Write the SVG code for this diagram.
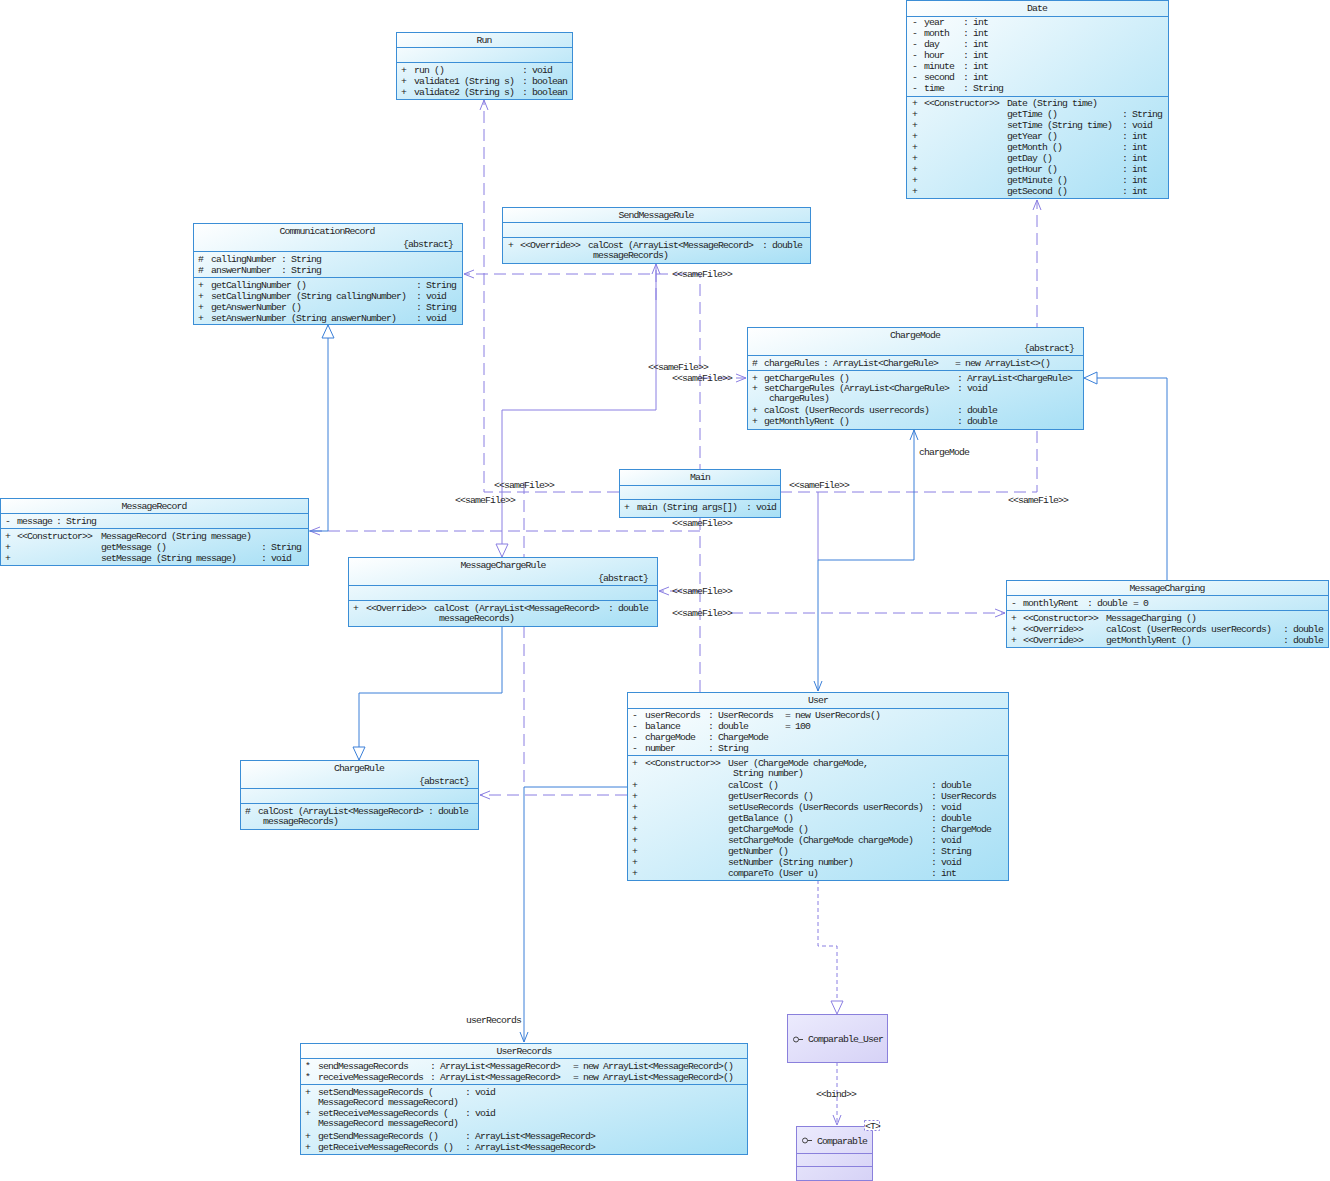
<svg xmlns="http://www.w3.org/2000/svg" width="1330" height="1181" viewBox="0 0 1330 1181">
<style>
.box{fill:url(#g);stroke:#3b8ed6;stroke-width:1}
.ibox{fill:url(#gi);stroke:#8a80dc;stroke-width:1}
.dv{stroke:#3b8ed6;stroke-width:1}
.idv{stroke:#8a80dc;stroke-width:1}
text{font-family:"Liberation Mono","DejaVu Sans Mono",monospace;font-size:9.8px;letter-spacing:-0.88px;fill:#1e1e1e}
.c{text-anchor:middle}
.e{text-anchor:end}
.dep{fill:none;stroke:#8a7ee2;stroke-width:1;stroke-dasharray:12 6}
.dot{fill:none;stroke:#8a7ee2;stroke-width:1;stroke-dasharray:4 3}
.sol{fill:none;stroke:#8a7ee2;stroke-width:1}
.as{fill:none;stroke:#3a7fd8;stroke-width:1}
</style>
<defs>
<linearGradient id="g" x1="0" y1="0" x2="1" y2="1">
<stop offset="0" stop-color="#ffffff"/>
<stop offset="1" stop-color="#a6dff5"/>
</linearGradient>
<linearGradient id="gi" x1="0" y1="0" x2="1" y2="1">
<stop offset="0" stop-color="#ecebfd"/>
<stop offset="1" stop-color="#d6d2f6"/>
</linearGradient>
<marker id="ad" viewBox="0 0 10 8" refX="10" refY="4" markerWidth="10" markerHeight="8" markerUnits="userSpaceOnUse" orient="auto" overflow="visible">
<path d="M0,0 L10,4 L0,8" fill="none" stroke="#8a7ee2" stroke-width="1"/>
</marker>
<marker id="ab" viewBox="0 0 10 8" refX="10" refY="4" markerWidth="10" markerHeight="8" markerUnits="userSpaceOnUse" orient="auto" overflow="visible">
<path d="M0,0 L10,4 L0,8" fill="none" stroke="#3a7fd8" stroke-width="1"/>
</marker>
<marker id="tb" viewBox="0 0 13 12" refX="13" refY="6" markerWidth="13" markerHeight="12" markerUnits="userSpaceOnUse" orient="auto" overflow="visible">
<path d="M0,0 L13,6 L0,12 Z" fill="#ffffff" stroke="#3a7fd8" stroke-width="1"/>
</marker>
<marker id="tp" viewBox="0 0 13 12" refX="13" refY="6" markerWidth="13" markerHeight="12" markerUnits="userSpaceOnUse" orient="auto" overflow="visible">
<path d="M0,0 L13,6 L0,12 Z" fill="#ffffff" stroke="#8a7ee2" stroke-width="1"/>
</marker>
</defs>
<rect width="1330" height="1181" fill="#ffffff"/>

<g id="connectors">
<path class="dep" d="M619,492 H484 V100" marker-end="url(#ad)"/>
<path class="dep" d="M780,492 H1037 V200" marker-end="url(#ad)"/>
<path class="dep" d="M700,692 V274 H464" marker-end="url(#ad)"/>
<path class="dep" d="M656,300 V264" marker-end="url(#ad)"/>
<path class="dep" d="M700,378 H746" marker-end="url(#ad)"/>
<path class="dep" d="M700,531 H310" marker-end="url(#ad)"/>
<path class="dep" d="M700,591 H659" marker-end="url(#ad)"/>
<path class="dep" d="M731,613 H1005" marker-end="url(#ad)"/>
<path class="dep" d="M524,482 V787"/>
<path class="dep" d="M627,795 H480" marker-end="url(#ad)"/>
<path class="sol" d="M818,492 V560"/>
<path class="as" d="M818,560 V691" marker-end="url(#ab)"/>
<path class="as" d="M818,560 H914 V430" marker-end="url(#ab)"/>
<path class="as" d="M627,787 H524 V1042" marker-end="url(#ab)"/>
<path class="as" d="M308,531 H328 V325" marker-end="url(#tb)"/>
<path class="sol" d="M656,264 V410 H502 V557" marker-end="url(#tp)"/>
<path class="as" d="M502,626 V693 H359 V760" marker-end="url(#tb)"/>
<path class="as" d="M1167,580 V378 H1084" marker-end="url(#tb)"/>
<path class="dot" d="M818,880 V946 H837 V1014" marker-end="url(#tp)"/>
<path class="dot" d="M837,1062 V1125" marker-end="url(#ad)"/>
<text x="672" y="277">&lt;&lt;sameFile&gt;&gt;</text>
<text x="648" y="370">&lt;&lt;sameFile&gt;&gt;</text>
<text x="672" y="381">&lt;&lt;sameFile&gt;&gt;</text>
<text x="494" y="488">&lt;&lt;sameFile&gt;&gt;</text>
<text x="455" y="503">&lt;&lt;sameFile&gt;&gt;</text>
<text x="789" y="488">&lt;&lt;sameFile&gt;&gt;</text>
<text x="1008" y="503">&lt;&lt;sameFile&gt;&gt;</text>
<text x="672" y="526">&lt;&lt;sameFile&gt;&gt;</text>
<text x="672" y="594">&lt;&lt;sameFile&gt;&gt;</text>
<text x="672" y="616">&lt;&lt;sameFile&gt;&gt;</text>
<text x="919" y="455">chargeMode</text>
<text x="466" y="1023">userRecords</text>
<text x="816" y="1097">&lt;&lt;bind&gt;&gt;</text>
</g>

<g id="Run">
<rect class="box" x="396.5" y="32.5" width="176" height="67"/>
<line class="dv" x1="396.5" y1="47.5" x2="572.5" y2="47.5"/>
<line class="dv" x1="396.5" y1="62.5" x2="572.5" y2="62.5"/>
<text class="c" x="484" y="43">Run</text>
<text y="73"><tspan x="401">+</tspan><tspan x="414">run ()</tspan><tspan x="522">: void</tspan></text>
<text y="84"><tspan x="401">+</tspan><tspan x="414">validate1 (String s)</tspan><tspan x="522">: boolean</tspan></text>
<text y="95"><tspan x="401">+</tspan><tspan x="414">validate2 (String s)</tspan><tspan x="522">: boolean</tspan></text>
</g>

<g id="Date">
<rect class="box" x="906.5" y="0.5" width="262" height="198"/>
<line class="dv" x1="906.5" y1="16.5" x2="1168.5" y2="16.5"/>
<line class="dv" x1="906.5" y1="96.5" x2="1168.5" y2="96.5"/>
<text class="c" x="1037" y="11">Date</text>
<text y="25"><tspan x="912">-</tspan><tspan x="924">year</tspan><tspan x="963">: int</tspan></text>
<text y="36"><tspan x="912">-</tspan><tspan x="924">month</tspan><tspan x="963">: int</tspan></text>
<text y="47"><tspan x="912">-</tspan><tspan x="924">day</tspan><tspan x="963">: int</tspan></text>
<text y="58"><tspan x="912">-</tspan><tspan x="924">hour</tspan><tspan x="963">: int</tspan></text>
<text y="69"><tspan x="912">-</tspan><tspan x="924">minute</tspan><tspan x="963">: int</tspan></text>
<text y="80"><tspan x="912">-</tspan><tspan x="924">second</tspan><tspan x="963">: int</tspan></text>
<text y="91"><tspan x="912">-</tspan><tspan x="924">time</tspan><tspan x="963">: String</tspan></text>
<text y="106"><tspan x="912">+</tspan><tspan x="924">&lt;&lt;Constructor&gt;&gt;</tspan><tspan x="1007">Date (String time)</tspan></text>
<text y="117"><tspan x="912">+</tspan><tspan x="1007">getTime ()</tspan><tspan x="1122">: String</tspan></text>
<text y="128"><tspan x="912">+</tspan><tspan x="1007">setTime (String time)</tspan><tspan x="1122">: void</tspan></text>
<text y="139"><tspan x="912">+</tspan><tspan x="1007">getYear ()</tspan><tspan x="1122">: int</tspan></text>
<text y="150"><tspan x="912">+</tspan><tspan x="1007">getMonth ()</tspan><tspan x="1122">: int</tspan></text>
<text y="161"><tspan x="912">+</tspan><tspan x="1007">getDay ()</tspan><tspan x="1122">: int</tspan></text>
<text y="172"><tspan x="912">+</tspan><tspan x="1007">getHour ()</tspan><tspan x="1122">: int</tspan></text>
<text y="183"><tspan x="912">+</tspan><tspan x="1007">getMinute ()</tspan><tspan x="1122">: int</tspan></text>
<text y="194"><tspan x="912">+</tspan><tspan x="1007">getSecond ()</tspan><tspan x="1122">: int</tspan></text>
</g>

<g id="CommunicationRecord">
<rect class="box" x="193.5" y="223.5" width="269" height="101"/>
<line class="dv" x1="193.5" y1="251.5" x2="462.5" y2="251.5"/>
<line class="dv" x1="193.5" y1="277.5" x2="462.5" y2="277.5"/>
<text class="c" x="327" y="234">CommunicationRecord</text>
<text class="e" x="453" y="247">{abstract}</text>
<text y="262"><tspan x="198">#</tspan><tspan x="211">callingNumber</tspan><tspan x="281">: String</tspan></text>
<text y="273"><tspan x="198">#</tspan><tspan x="211">answerNumber</tspan><tspan x="281">: String</tspan></text>
<text y="288"><tspan x="198">+</tspan><tspan x="211">getCallingNumber ()</tspan><tspan x="416">: String</tspan></text>
<text y="299"><tspan x="198">+</tspan><tspan x="211">setCallingNumber (String callingNumber)</tspan><tspan x="416">: void</tspan></text>
<text y="310"><tspan x="198">+</tspan><tspan x="211">getAnswerNumber ()</tspan><tspan x="416">: String</tspan></text>
<text y="321"><tspan x="198">+</tspan><tspan x="211">setAnswerNumber (String answerNumber)</tspan><tspan x="416">: void</tspan></text>
</g>

<g id="SendMessageRule">
<rect class="box" x="502.5" y="207.5" width="308" height="56"/>
<line class="dv" x1="502.5" y1="222.5" x2="810.5" y2="222.5"/>
<line class="dv" x1="502.5" y1="237.5" x2="810.5" y2="237.5"/>
<text class="c" x="656" y="218">SendMessageRule</text>
<text y="248"><tspan x="508">+</tspan><tspan x="520">&lt;&lt;Override&gt;&gt;</tspan><tspan x="588">calCost (ArrayList&lt;MessageRecord&gt;</tspan><tspan x="762">: double</tspan></text>
<text x="593" y="258">messageRecords)</text>
</g>

<g id="ChargeMode">
<rect class="box" x="747.5" y="327.5" width="336" height="102"/>
<line class="dv" x1="747.5" y1="355.5" x2="1083.5" y2="355.5"/>
<line class="dv" x1="747.5" y1="370.5" x2="1083.5" y2="370.5"/>
<text class="c" x="915" y="338">ChargeMode</text>
<text class="e" x="1074" y="351">{abstract}</text>
<text y="366"><tspan x="752">#</tspan><tspan x="764">chargeRules</tspan><tspan x="823">: ArrayList&lt;ChargeRule&gt;</tspan><tspan x="955">= new ArrayList&lt;&gt;()</tspan></text>
<text y="381"><tspan x="752">+</tspan><tspan x="764">getChargeRules ()</tspan><tspan x="957">: ArrayList&lt;ChargeRule&gt;</tspan></text>
<text y="391"><tspan x="752">+</tspan><tspan x="764">setChargeRules (ArrayList&lt;ChargeRule&gt;</tspan><tspan x="957">: void</tspan></text>
<text x="769" y="401">chargeRules)</text>
<text y="413"><tspan x="752">+</tspan><tspan x="764">calCost (UserRecords userrecords)</tspan><tspan x="957">: double</tspan></text>
<text y="424"><tspan x="752">+</tspan><tspan x="764">getMonthlyRent ()</tspan><tspan x="957">: double</tspan></text>
</g>

<g id="MessageRecord">
<rect class="box" x="0.5" y="498.5" width="308" height="67"/>
<line class="dv" x1="0.5" y1="513.5" x2="308.5" y2="513.5"/>
<line class="dv" x1="0.5" y1="528.5" x2="308.5" y2="528.5"/>
<text class="c" x="154" y="509">MessageRecord</text>
<text y="524"><tspan x="5">-</tspan><tspan x="17">message</tspan><tspan x="56">: String</tspan></text>
<text y="539"><tspan x="5">+</tspan><tspan x="17">&lt;&lt;Constructor&gt;&gt;</tspan><tspan x="101">MessageRecord (String message)</tspan></text>
<text y="550"><tspan x="5">+</tspan><tspan x="101">getMessage ()</tspan><tspan x="261">: String</tspan></text>
<text y="561"><tspan x="5">+</tspan><tspan x="101">setMessage (String message)</tspan><tspan x="261">: void</tspan></text>
</g>

<g id="Main">
<rect class="box" x="619.5" y="469.5" width="161" height="48"/>
<line class="dv" x1="619.5" y1="485.5" x2="780.5" y2="485.5"/>
<line class="dv" x1="619.5" y1="499.5" x2="780.5" y2="499.5"/>
<text class="c" x="700" y="480">Main</text>
<text y="510"><tspan x="624">+</tspan><tspan x="637">main (String args[])</tspan><tspan x="746">: void</tspan></text>
</g>

<g id="MessageChargeRule">
<rect class="box" x="348.5" y="557.5" width="309" height="69"/>
<line class="dv" x1="348.5" y1="585.5" x2="657.5" y2="585.5"/>
<line class="dv" x1="348.5" y1="600.5" x2="657.5" y2="600.5"/>
<text class="c" x="503" y="568">MessageChargeRule</text>
<text class="e" x="648" y="581">{abstract}</text>
<text y="611"><tspan x="353">+</tspan><tspan x="366">&lt;&lt;Override&gt;&gt;</tspan><tspan x="434">calCost (ArrayList&lt;MessageRecord&gt;</tspan><tspan x="608">: double</tspan></text>
<text x="439" y="621">messageRecords)</text>
</g>

<g id="MessageCharging">
<rect class="box" x="1006.5" y="580.5" width="322" height="67"/>
<line class="dv" x1="1006.5" y1="595.5" x2="1328.5" y2="595.5"/>
<line class="dv" x1="1006.5" y1="610.5" x2="1328.5" y2="610.5"/>
<text class="c" x="1167" y="591">MessageCharging</text>
<text y="606"><tspan x="1011">-</tspan><tspan x="1023">monthlyRent</tspan><tspan x="1087">: double</tspan><tspan x="1133">= 0</tspan></text>
<text y="621"><tspan x="1011">+</tspan><tspan x="1023">&lt;&lt;Constructor&gt;&gt;</tspan><tspan x="1106">MessageCharging ()</tspan></text>
<text y="632"><tspan x="1011">+</tspan><tspan x="1023">&lt;&lt;Override&gt;&gt;</tspan><tspan x="1106">calCost (UserRecords userRecords)</tspan><tspan x="1283">: double</tspan></text>
<text y="643"><tspan x="1011">+</tspan><tspan x="1023">&lt;&lt;Override&gt;&gt;</tspan><tspan x="1106">getMonthlyRent ()</tspan><tspan x="1283">: double</tspan></text>
</g>

<g id="User">
<rect class="box" x="627.5" y="692.5" width="381" height="188"/>
<line class="dv" x1="627.5" y1="708.5" x2="1008.5" y2="708.5"/>
<line class="dv" x1="627.5" y1="755.5" x2="1008.5" y2="755.5"/>
<text class="c" x="818" y="703">User</text>
<text y="718"><tspan x="632">-</tspan><tspan x="645">userRecords</tspan><tspan x="708">: UserRecords</tspan><tspan x="785">= new UserRecords()</tspan></text>
<text y="729"><tspan x="632">-</tspan><tspan x="645">balance</tspan><tspan x="708">: double</tspan><tspan x="785">= 100</tspan></text>
<text y="740"><tspan x="632">-</tspan><tspan x="645">chargeMode</tspan><tspan x="708">: ChargeMode</tspan></text>
<text y="751"><tspan x="632">-</tspan><tspan x="645">number</tspan><tspan x="708">: String</tspan></text>
<text y="766"><tspan x="632">+</tspan><tspan x="645">&lt;&lt;Constructor&gt;&gt;</tspan><tspan x="728">User (ChargeMode chargeMode,</tspan></text>
<text x="733" y="776">String number)</text>
<text y="788"><tspan x="632">+</tspan><tspan x="728">calCost ()</tspan><tspan x="931">: double</tspan></text>
<text y="799"><tspan x="632">+</tspan><tspan x="728">getUserRecords ()</tspan><tspan x="931">: UserRecords</tspan></text>
<text y="810"><tspan x="632">+</tspan><tspan x="728">setUseRecords (UserRecords userRecords)</tspan><tspan x="931">: void</tspan></text>
<text y="821"><tspan x="632">+</tspan><tspan x="728">getBalance ()</tspan><tspan x="931">: double</tspan></text>
<text y="832"><tspan x="632">+</tspan><tspan x="728">getChargeMode ()</tspan><tspan x="931">: ChargeMode</tspan></text>
<text y="843"><tspan x="632">+</tspan><tspan x="728">setChargeMode (ChargeMode chargeMode)</tspan><tspan x="931">: void</tspan></text>
<text y="854"><tspan x="632">+</tspan><tspan x="728">getNumber ()</tspan><tspan x="931">: String</tspan></text>
<text y="865"><tspan x="632">+</tspan><tspan x="728">setNumber (String number)</tspan><tspan x="931">: void</tspan></text>
<text y="876"><tspan x="632">+</tspan><tspan x="728">compareTo (User u)</tspan><tspan x="931">: int</tspan></text>
</g>

<g id="ChargeRule">
<rect class="box" x="240.5" y="760.5" width="238" height="69"/>
<line class="dv" x1="240.5" y1="788.5" x2="478.5" y2="788.5"/>
<line class="dv" x1="240.5" y1="803.5" x2="478.5" y2="803.5"/>
<text class="c" x="359" y="771">ChargeRule</text>
<text class="e" x="469" y="784">{abstract}</text>
<text y="814"><tspan x="245">#</tspan><tspan x="258">calCost (ArrayList&lt;MessageRecord&gt;</tspan><tspan x="428">: double</tspan></text>
<text x="263" y="824">messageRecords)</text>
</g>

<g id="UserRecords">
<rect class="box" x="300.5" y="1043.5" width="447" height="111"/>
<line class="dv" x1="300.5" y1="1058.5" x2="747.5" y2="1058.5"/>
<line class="dv" x1="300.5" y1="1084.5" x2="747.5" y2="1084.5"/>
<text class="c" x="524" y="1054">UserRecords</text>
<text y="1069"><tspan x="305">*</tspan><tspan x="318">sendMessageRecords</tspan><tspan x="430">: ArrayList&lt;MessageRecord&gt;</tspan><tspan x="573">= new ArrayList&lt;MessageRecord&gt;()</tspan></text>
<text y="1080"><tspan x="305">*</tspan><tspan x="318">receiveMessageRecords</tspan><tspan x="430">: ArrayList&lt;MessageRecord&gt;</tspan><tspan x="573">= new ArrayList&lt;MessageRecord&gt;()</tspan></text>
<text y="1095"><tspan x="305">+</tspan><tspan x="318">setSendMessageRecords (</tspan><tspan x="465">: void</tspan></text>
<text x="318" y="1105">MessageRecord messageRecord)</text>
<text y="1116"><tspan x="305">+</tspan><tspan x="318">setReceiveMessageRecords (</tspan><tspan x="465">: void</tspan></text>
<text x="318" y="1126">MessageRecord messageRecord)</text>
<text y="1139"><tspan x="305">+</tspan><tspan x="318">getSendMessageRecords ()</tspan><tspan x="465">: ArrayList&lt;MessageRecord&gt;</tspan></text>
<text y="1150"><tspan x="305">+</tspan><tspan x="318">getReceiveMessageRecords ()</tspan><tspan x="465">: ArrayList&lt;MessageRecord&gt;</tspan></text>
</g>

<g id="Comparable_User">
<rect class="ibox" x="787.5" y="1014.5" width="100" height="48"/>
<circle cx="796" cy="1039.5" r="2.5" fill="none" stroke="#444" stroke-width="1"/>
<line x1="798.5" y1="1039.5" x2="803" y2="1039.5" stroke="#444" stroke-width="1"/>
<text x="808" y="1042">Comparable_User</text>
</g>

<g id="Comparable">
<rect class="ibox" x="796.5" y="1126.5" width="76" height="54"/>
<line class="idv" x1="796.5" y1="1153.5" x2="872.5" y2="1153.5"/>
<line class="idv" x1="796.5" y1="1166.5" x2="872.5" y2="1166.5"/>
<circle cx="805" cy="1140.5" r="2.5" fill="none" stroke="#444" stroke-width="1"/>
<line x1="807.5" y1="1140.5" x2="812" y2="1140.5" stroke="#444" stroke-width="1"/>
<text x="817" y="1144">Comparable</text>
<rect x="864.5" y="1120.5" width="15" height="10" fill="#ffffff" stroke="#8a80dc" stroke-width="1" stroke-dasharray="2 2"/>
<text x="865" y="1129">&lt;T&gt;</text>
</g>
</svg>
